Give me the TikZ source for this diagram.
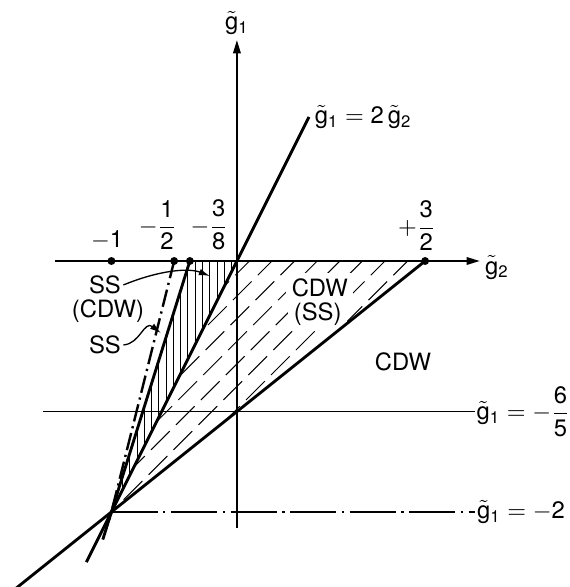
\documentclass[tikz,border=0pt]{standalone}
\usepackage{amsmath}
\usepackage{fontspec}
\setmainfont{TeX Gyre Heros}
\usetikzlibrary{positioning,arrows.meta,calc}

\newcommand{\gtil}[1]{\tilde{\mathrm{g}}_{\text{#1}}}
\newcommand{\dg}[1]{\text{#1}}

\begin{document}
\begin{tikzpicture}[
  x=2cm, y=2cm,
  font=\fontsize{10.8}{11}\selectfont,
  >={Triangle[length=6pt,width=3.4pt]},
  axis/.style={->, line width=0.8pt},
  bound/.style={line width=1.3pt},
  dashdot/.style={line width=1.1pt, dash pattern=on 8pt off 2.2pt on 1pt off 2.2pt},
  longdashdot/.style={line width=1pt, dash pattern=on 21pt off 2.5pt on 1pt off 2.5pt},
  level/.style={line width=0.6pt},
  vhatch/.style={line width=0.45pt},
  dhatch/.style={line width=0.45pt, dash pattern=on 12pt off 4pt},
  dot/.style={circle, fill, inner sep=0pt, minimum size=3.6pt},
  pointer/.style={-{Latex[length=5pt,width=3pt]}, line width=0.6pt},
  lbl/.style={inner sep=1pt},
  boxlbl/.style={fill=white, inner sep=2.5pt}
]
\useasboundingbox (-1.888,-2.598) rectangle (2.653,2.080);

% fixed points
\coordinate (O) at (0,0);
\coordinate (P) at (-1,-2);
\coordinate (t1) at (-1,0);
\coordinate (thalf) at (-0.5,0);
\coordinate (t38) at (-0.375,0);
\coordinate (t32) at (1.5,0);
\coordinate (l65) at (0,-1.2);

% hatching
\begin{scope}
  \clip (P) -- (t38) -- (O) -- cycle;
  \foreach \x in {-0.97,-0.912,...,-0.02}
    \draw[vhatch] (\x,0.1) -- (\x,-2.1);
\end{scope}
\begin{scope}
  \clip (P) -- (O) -- (t32) -- cycle;
  \foreach \c in {0.1,0.28,...,1.45}
    \draw[dhatch] (\c-2.3,-2.3) -- (\c+0.3,0.3);
\end{scope}
\node[boxlbl] (cdwss) at (0.661,-0.215) {CDW};
\node[boxlbl, below=-3pt of cdwss, xshift=-1pt] (ss3) {(SS)};

% axes
\draw[axis] (-1.45,0) -- (1.936,0) node[right, inner sep=2pt, yshift=-3pt] {$\gtil2$};
\draw[axis] (0,-2.127) -- (0,1.761) node[above, inner sep=2pt] {$\gtil1$};

% level lines
\draw[level] ($(l65)+(-1.546,0)$) -- ($(l65)+(1.896,0)$)
  node[right, inner sep=0.5pt] {$\gtil1 = -\dfrac{\dg6}{\dg5}$};
\draw[longdashdot] (P) -- ($(P)+(2.896,0)$)
  node[right, inner sep=0.5pt] {$\gtil1 = -\dg2$};

% boundaries
\draw[bound] ($(P)!-0.2!(O)$) -- ($(P)!1.574!(O)$)
  node[right, inner sep=2pt] {$\gtil1 = \dg2\,\gtil2$};
\draw[bound] ($(P)!-0.31!(t32)$) -- (t32);
\draw[bound] ($(P)!-0.11!(t38)$) -- (t38);
\draw[dashdot] (thalf) -- ($(thalf)!1.03!(P)$);

% points on the axis
\node[dot] (m1) at (t1) {};
\node[dot] (mhalf) at (thalf) {};
\node[dot] (m38) at (t38) {};
\node[dot] (p32) at (t32) {};
\node[lbl, above=1.8pt of m1, xshift=-2pt] {$-\dg1$};
\node[lbl, above=1.8pt of mhalf, xshift=-7.5pt] {$-\dfrac{\dg1}{\dg2}$};
\node[lbl, above=1.8pt of m38, xshift=8.8pt] {$-\dfrac{\dg3}{\dg8}$};
\node[lbl, above=1.5pt of p32, xshift=-3.8pt] {$+\dfrac{\dg3}{\dg2}$};

% regions
\node[lbl] (ss1) at (-1.052,-0.191) {SS};
\node[lbl, below=0pt of ss1, xshift=1.4pt] (cdw1) {(CDW)};
\node[lbl] (ss2) at (-1.052,-0.669) {SS};
\node[lbl] (cdw2) at (1.323,-0.805) {CDW};

\coordinate (tip1) at (-0.215,-0.12);
\coordinate (tip2) at (-0.606,-0.574);
\draw[pointer] (ss1.east) .. controls (-0.61,-0.07) and (-0.38,-0.055) .. (tip1);
\draw[pointer] (ss2.east) .. controls (-0.77,-0.66) and (-0.74,-0.47) .. (tip2);

\end{tikzpicture}
\end{document}
